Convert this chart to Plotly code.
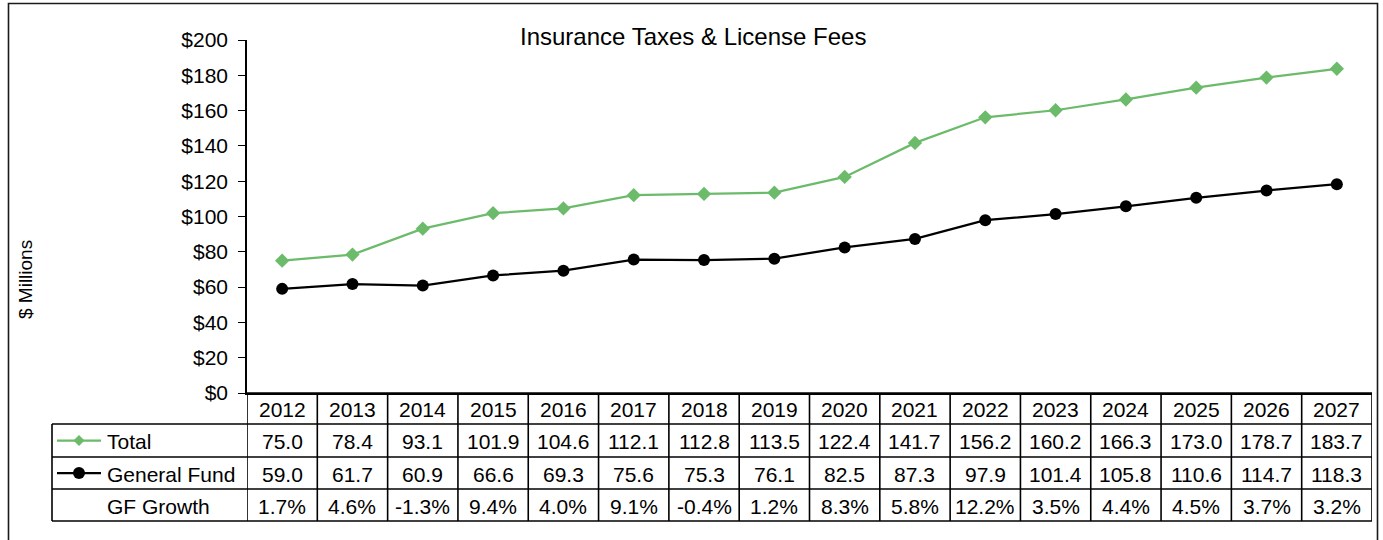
import plotly.graph_objects as go

# ---------------- data ----------------
years = [str(y) for y in range(2012, 2028)]
total = [75.0, 78.4, 93.1, 101.9, 104.6, 112.1, 112.8, 113.5, 122.4, 141.7,
         156.2, 160.2, 166.3, 173.0, 178.7, 183.7]
general_fund = [59.0, 61.7, 60.9, 66.6, 69.3, 75.6, 75.3, 76.1, 82.5, 87.3,
                97.9, 101.4, 105.8, 110.6, 114.7, 118.3]
gf_growth = ["1.7%", "4.6%", "-1.3%", "9.4%", "4.0%", "9.1%", "-0.4%", "1.2%",
             "8.3%", "5.8%", "12.2%", "3.5%", "4.4%", "4.5%", "3.7%", "3.2%"]
y_tick_vals = [0, 20, 40, 60, 80, 100, 120, 140, 160, 180, 200]
title_text = "Insurance Taxes & License Fees"
y_title = "$ Millions"
row_labels = ["Total", "General Fund", "GF Growth"]

GREEN = "#6BBB6B"
BLACK = "#000000"
FONT = "Arial, 'Liberation Sans', sans-serif"

# ---------------- geometry (window pixels) ----------------
W, H = 1383, 540
L, R, T, B = 247, 1372, 40, 393  # plot area


def xp(px):
    return (px - L) / (R - L)


def yp(py):
    return (B - py) / (B - T)


row_edges = [393, 424, 457, 489, 521]
table_left = 52
label_x = 105

idx = list(range(len(years)))

fig = go.Figure()
fig.add_trace(go.Scatter(
    x=idx, y=total, mode="lines+markers", name=row_labels[0],
    line=dict(color=GREEN, width=2.25),
    marker=dict(symbol="diamond", size=11, color=GREEN),
    showlegend=False))
fig.add_trace(go.Scatter(
    x=idx, y=general_fund, mode="lines+markers", name=row_labels[1],
    line=dict(color=BLACK, width=2.25),
    marker=dict(symbol="circle", size=12, color=BLACK),
    showlegend=False))

shapes = []
annotations = []
lw = 1.6

# outer chart border
shapes.append(dict(type="rect", xref="paper", yref="paper",
                   x0=xp(8.5), x1=xp(1377.5), y0=yp(560), y1=yp(3.5),
                   line=dict(color="#1a1a1a", width=1.6), layer="below"))

# table horizontal lines
for i, ry in enumerate(row_edges):
    x0 = L if i == 0 else table_left
    shapes.append(dict(type="line", xref="paper", yref="paper",
                       x0=xp(x0), x1=xp(R), y0=yp(ry), y1=yp(ry),
                       line=dict(color=BLACK, width=lw)))
# table vertical lines (column boundaries)
for i in range(len(years) + 1):
    shapes.append(dict(type="line", xref="x", yref="paper",
                       x0=i - 0.5, x1=i - 0.5,
                       y0=yp(row_edges[0]), y1=yp(row_edges[-1]),
                       line=dict(color=BLACK, width=lw)))
# left edge of label column
shapes.append(dict(type="line", xref="paper", yref="paper",
                   x0=xp(table_left), x1=xp(table_left),
                   y0=yp(row_edges[1]), y1=yp(row_edges[-1]),
                   line=dict(color=BLACK, width=lw)))

# legend keys in table
key_rows = [(GREEN, "diamond"), (BLACK, "circle")]
for k, (col, sym) in enumerate(key_rows):
    cy = (row_edges[k + 1] + row_edges[k + 2]) / 2
    shapes.append(dict(type="line", xref="paper", yref="paper",
                       x0=xp(57), x1=xp(101), y0=yp(cy), y1=yp(cy),
                       line=dict(color=col, width=2.25)))
    if sym == "diamond":
        shapes.append(dict(type="path", xref="paper", yref="paper",
                           xsizemode="pixel", ysizemode="pixel",
                           xanchor=xp(79), yanchor=yp(cy),
                           path="M -5.5 0 L 0 5.5 L 5.5 0 L 0 -5.5 Z",
                           fillcolor=col, line=dict(color=col, width=0)))
    else:
        shapes.append(dict(type="circle", xref="paper", yref="paper",
                           xsizemode="pixel", ysizemode="pixel",
                           xanchor=xp(79), yanchor=yp(cy),
                           x0=-6, x1=6, y0=-6, y1=6,
                           fillcolor=col, line=dict(color=col, width=0)))

# table text
cell_font = dict(family=FONT, size=21, color=BLACK)
rows = [years,
        [f"{v:.1f}" for v in total],
        [f"{v:.1f}" for v in general_fund],
        gf_growth]
for r, vals in enumerate(rows):
    cy = (row_edges[r] + row_edges[r + 1]) / 2 + 1
    for i, v in enumerate(vals):
        annotations.append(dict(x=idx[i], y=yp(cy), xref="x", yref="paper",
                                text=v, showarrow=False, font=cell_font,
                                xanchor="center", yanchor="middle"))
for r, lab in enumerate(row_labels):
    cy = (row_edges[r + 1] + row_edges[r + 2]) / 2 + 1
    annotations.append(dict(x=xp(label_x), y=yp(cy), xref="paper", yref="paper",
                            text=lab, showarrow=False, font=cell_font,
                            xanchor="left", yanchor="middle"))

# title
annotations.append(dict(x=xp(693), y=yp(36), xref="paper", yref="paper",
                        text=title_text, showarrow=False,
                        font=dict(family=FONT, size=24, color=BLACK),
                        xanchor="center", yanchor="middle"))
# y-axis title
annotations.append(dict(x=xp(25), y=yp(280), xref="paper", yref="paper",
                        text=y_title, showarrow=False, textangle=-90,
                        font=dict(family=FONT, size=19, color=BLACK),
                        xanchor="center", yanchor="middle"))

fig.update_layout(
    width=W, height=H,
    margin=dict(l=L, r=W - R, t=T, b=H - B, autoexpand=False),
    paper_bgcolor="white", plot_bgcolor="white",
    shapes=shapes, annotations=annotations,
    xaxis=dict(range=[-0.5, len(years) - 0.5],
               showgrid=False, zeroline=False, showline=True,
               linecolor=BLACK, linewidth=lw, ticks="",
               showticklabels=False, fixedrange=True),
    yaxis=dict(range=[0, 200], tickvals=y_tick_vals,
               ticktext=[f"${v}" for v in y_tick_vals],
               showgrid=False, zeroline=False, showline=True,
               linecolor=BLACK, linewidth=lw, ticks="outside",
               ticklen=7, tickwidth=1.3, tickcolor=BLACK,
               ticklabelstandoff=6,
               tickfont=dict(family=FONT, size=21, color=BLACK),
               fixedrange=True),
)

fig.write_html(
    "out.html",
    config={"displayModeBar": False},
    post_script="document.body.style.margin='0';"
                "document.body.style.overflow='hidden';",
)
